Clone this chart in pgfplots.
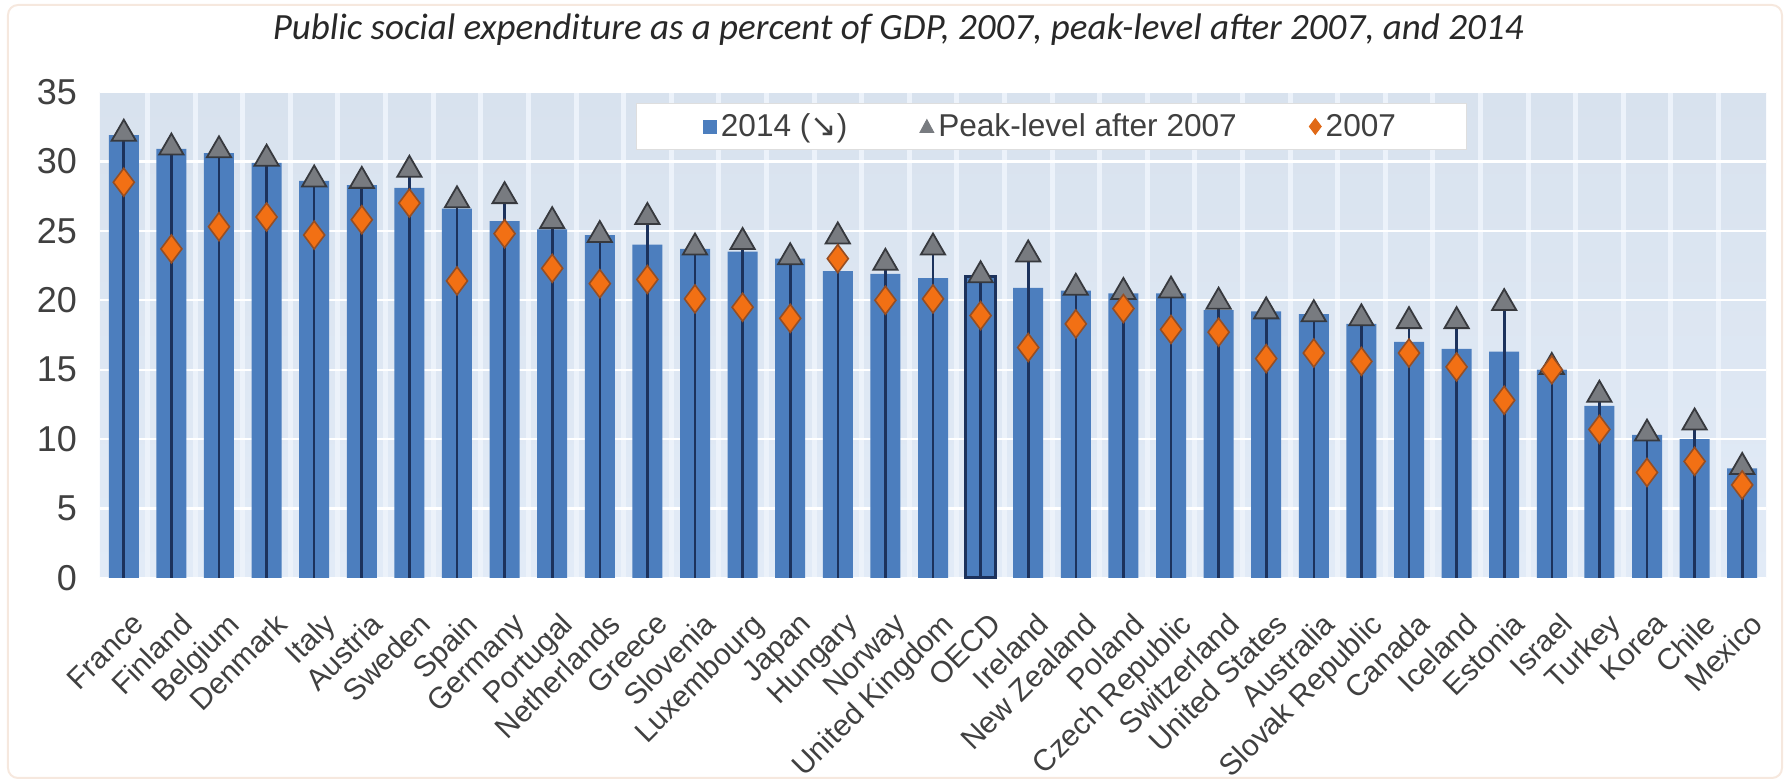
\documentclass[border=0pt]{standalone}
\usepackage{fontspec}
\setmainfont{Liberation Sans}
\newfontfamily\titlefont{Carlito}
\newfontfamily\symfont{DejaVu Sans}
\usepackage{pgfplots}
\usepackage{pgfplotstable}
\pgfplotsset{compat=1.18}

\definecolor{barblue}{RGB}{76,126,190}
\definecolor{stemnavy}{RGB}{28,50,92}
\definecolor{peakgray}{RGB}{120,123,128}
\definecolor{peakdark}{RGB}{55,57,62}
\definecolor{dotorange}{RGB}{242,112,20}
\definecolor{dotbrown}{RGB}{150,78,35}
\definecolor{bgtop}{RGB}{216,226,238}
\definecolor{bgbot}{RGB}{226,235,247}
\definecolor{gapcol}{RGB}{236,242,250}
\definecolor{tickgray}{RGB}{64,64,64}
\definecolor{titlegray}{RGB}{40,40,40}
\definecolor{framecol}{RGB}{246,232,222}

% idx: country position, y2014, peak after 2007, y2007
\pgfplotstableread{
idx y2014 peak y2007
0  31.9 32.0 28.5
1  30.9 31.0 23.7
2  30.6 30.8 25.3
3  29.9 30.2 26.0
4  28.6 28.7 24.7
5  28.3 28.6 25.8
6  28.1 29.4 27.0
7  26.6 27.2 21.4
8  25.7 27.5 24.8
9  25.1 25.7 22.3
10 24.7 24.7 21.2
11 24.0 26.0 21.5
12 23.7 23.8 20.1
13 23.5 24.2 19.5
14 23.0 23.1 18.7
15 22.1 24.6 23.0
16 21.9 22.7 20.0
17 21.6 23.8 20.1
18 21.7 21.8 18.9
19 20.9 23.3 16.6
20 20.7 20.9 18.3
21 20.5 20.6 19.4
22 20.5 20.7 17.9
23 19.3 19.9 17.7
24 19.2 19.2 15.8
25 19.0 19.0 16.2
26 18.3 18.7 15.6
27 17.0 18.5 16.2
28 16.5 18.5 15.2
29 16.3 19.8 12.8
30 15.0 15.2 15.0
31 12.4 13.2 10.7
32 10.3 10.4 7.6
33 10.0 11.2 8.4
34 7.9  8.0  6.7
}\socx

\begin{document}
\begin{tikzpicture}
\useasboundingbox (-50pt,-101.5pt) rectangle (844.5pt,289pt);
\draw[framecol, line width=1pt, rounded corners=5pt] (-46pt,-100pt) rectangle (841pt,286.5pt);
\begin{axis}[
  at={(0pt,0pt)}, anchor=south west,
  scale only axis, width=833pt, height=243pt,
  xmin=-0.5, xmax=34.5, ymin=0, ymax=35,
  clip=false,
  axis background/.style={shade, top color=bgtop, bottom color=bgbot},
  axis line style={draw=none},
  major tick style={draw=none}, minor tick style={draw=none},
  ytick={0,5,...,35},
  ymajorgrids, major grid style={white, line width=1.2pt},
  minor xtick={0.5,1.5,...,33.5},
  xminorgrids, minor grid style={gapcol, line width=2.5pt},
  xtick={0,...,34},
  xticklabels={France,Finland,Belgium,Denmark,Italy,Austria,Sweden,Spain,Germany,Portugal,Netherlands,Greece,Slovenia,Luxembourg,Japan,Hungary,Norway,United Kingdom,OECD,Ireland,New Zealand,Poland,Czech Republic,Switzerland,United States,Australia,Slovak Republic,Canada,Iceland,Estonia,Israel,Turkey,Korea,Chile,Mexico},
  xticklabel style={rotate=45, anchor=north east, inner sep=0pt, yshift=-14pt, xshift=-9pt,
    font=\fontsize{15}{18}\selectfont, text=tickgray},
  yticklabel style={font=\fontsize{18}{21}\selectfont, text=tickgray, xshift=-8pt},
  /pgf/number format/assume math mode=true,
  title={Public social expenditure as a percent of GDP, 2007, peak-level after 2007, and 2014},
  title style={font=\titlefont\itshape\fontsize{18.5}{21}\selectfont, text=titlegray,
    at={(0.479,1)}, anchor=center, yshift=25pt},
  legend columns=3,
  legend style={at={(0.322,0.977)}, anchor=north west, fill=white,
    draw={rgb,255:red,222;green,222;blue,222}, inner xsep=33pt, inner ysep=3pt,
    font=\fontsize{15.8}{18}\selectfont, text=tickgray,
    /tikz/every even column/.append style={column sep=34pt}},
]
\addplot[ybar, bar width=15pt, bar shift=0pt, fill=barblue, draw=none,
  legend image code/.code={\fill[barblue] (0pt,-3.5pt) rectangle (7pt,3.5pt);}]
  table[x=idx, y=y2014] {\socx};
\addlegendentry{2014 ({\symfont ↘})}
\addplot[ybar, bar width=15pt, bar shift=0pt, fill=barblue, draw=stemnavy, line width=1.5pt, forget plot]
  coordinates {(18,21.7)};
\addplot[ycomb, draw=stemnavy, line width=1.3pt, forget plot]
  table[x=idx, y=peak] {\socx};
\addplot[only marks, mark=triangle*, mark size=7pt,
  mark options={fill=peakgray, draw=peakdark, line width=0.9pt},
  legend image code/.code={\fill[peakgray] (0pt,-3pt) -- (7pt,-3pt) -- (3.5pt,3.5pt) -- cycle;}]
  table[x=idx, y=peak] {\socx};
\addlegendentry{Peak-level after 2007}
\addplot[only marks, mark=diamond*, mark size=7pt,
  mark options={fill=dotorange, draw=dotbrown, line width=0.8pt},
  legend image code/.code={\fill[dotorange!80!dotbrown] (3pt,-4pt) -- (6pt,0pt) -- (3pt,4pt) -- (0pt,0pt) -- cycle;}]
  table[x=idx, y=y2007] {\socx};
\addlegendentry{2007}
\end{axis}
\end{tikzpicture}
\end{document}
